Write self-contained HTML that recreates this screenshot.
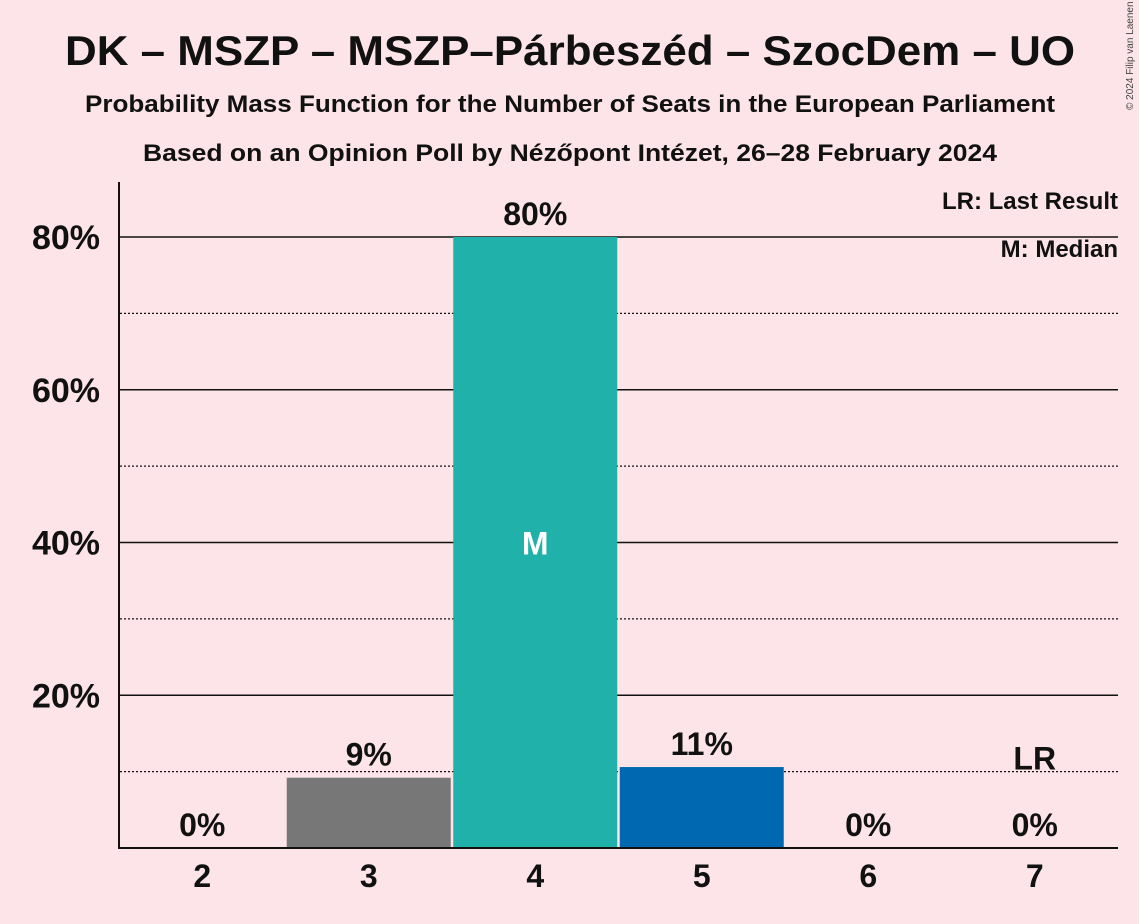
<!DOCTYPE html>
<html><head><meta charset="utf-8"><style>
body{margin:0;background:#fce4e8;}
svg{display:block;font-family:"Liberation Sans",sans-serif;}
</style></head><body>
<svg id="c" width="1139" height="924">
<rect width="1139" height="924" fill="#fce4e8"/>
<text x="65" y="65" textLength="1010" lengthAdjust="spacingAndGlyphs" font-size="42" font-weight="bold" fill="#111">DK – MSZP – MSZP–Párbeszéd – SzocDem – UO</text>
<text x="85" y="112" textLength="970" lengthAdjust="spacingAndGlyphs" font-size="24" font-weight="bold" fill="#111">Probability Mass Function for the Number of Seats in the European Parliament</text>
<text x="143" y="161" textLength="854" lengthAdjust="spacingAndGlyphs" font-size="24" font-weight="bold" fill="#111">Based on an Opinion Poll by Nézőpont Intézet, 26–28 February 2024</text>
<text x="1133" y="110" font-size="10" fill="#444" transform="rotate(-90 1133 110)">© 2024 Filip van Laenen</text>
<g id="grid"></g><g id="bars"></g>
<text x="1118" y="209" text-anchor="end" font-size="24" font-weight="bold" fill="#111">LR: Last Result</text>
<text x="1118" y="257" text-anchor="end" font-size="24" font-weight="bold" fill="#111">M: Median</text>
<line x1="119" y1="182" x2="119" y2="849" stroke="#111" stroke-width="2"/>
<line x1="118" y1="848" x2="1118" y2="848" stroke="#111" stroke-width="2"/>
</svg>
<script>
const categories=[2,3,4,5,6,7];
const values=[0,9.2,80,10.6,0,0];
const labels=["0%","9%","80%","11%","0%","0%"];
const colors=["#777","#777","#20b2aa","#0068b0","#777","#777"];
const yTicks=[20,40,60,80];
const yMinor=[10,30,50,70];
const medianIdx=2, lastResultIdx=5, lastResultVal=10;
const NS="http://www.w3.org/2000/svg";
const x0=119,bw=166.5,y=v=>848-v*7.6375,cx=i=>x0+bw*(i+0.5);
function mk(t,a,p){const e=document.createElementNS(NS,t);for(const k in a)e.setAttribute(k,a[k]);p.appendChild(e);return e;}
const g=document.getElementById('grid'),b=document.getElementById('bars');
yMinor.forEach(v=>{const l=mk('line',{x1:120,x2:1118,y1:y(v),y2:y(v),stroke:'#111','stroke-width':1.2,'stroke-dasharray':'2,2'},g);

});
yTicks.forEach(v=>{const l=mk('line',{x1:120,x2:1118,y1:y(v),y2:y(v),stroke:'#111','stroke-width':1.5},g);


const t=mk('text',{x:100,y:y(v)+12,'text-anchor':'end','font-size':34,'font-weight':'bold',fill:'#111'},g);t.textContent=v+'%';

});
categories.forEach((c,i)=>{
if(values[i]>0){const r=mk('rect',{x:cx(i)-82,y:y(values[i]),width:164,height:848-y(values[i]),fill:colors[i]},b);

}
const t=mk('text',{x:cx(i),y:y(values[i])-12,'text-anchor':'middle','font-size':32,'font-weight':'bold',fill:'#111'},b);t.textContent=labels[i];


const xt=mk('text',{x:cx(i),y:878+9,'text-anchor':'middle','font-size':32,'font-weight':'bold',fill:'#111'},b);xt.textContent=c;


});
const m=mk('text',{x:cx(medianIdx),y:y(values[medianIdx]/2)+12,'text-anchor':'middle','font-size':32,'font-weight':'bold',fill:'#fff'},b);m.textContent='M';


const lr=mk('text',{x:cx(lastResultIdx),y:y(lastResultVal)-2,'text-anchor':'middle','font-size':32,'font-weight':'bold',fill:'#111'},b);lr.textContent='LR';


</script>
</body></html>
